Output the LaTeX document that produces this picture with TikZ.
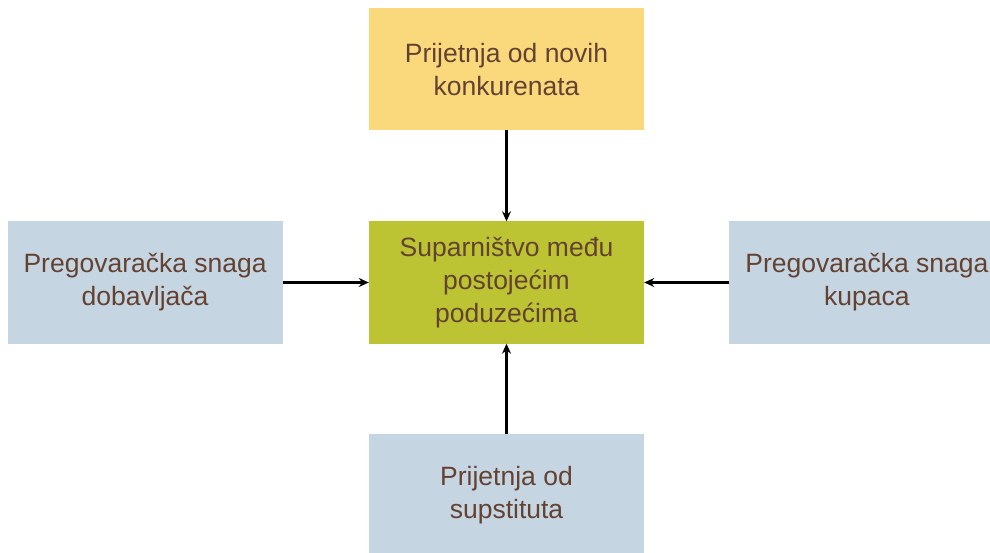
\documentclass[tikz,border=0pt]{standalone}
\usepackage{fontspec}
\setmainfont{Liberation Sans}
\usetikzlibrary{positioning, arrows.meta}

\definecolor{boxyellow}{RGB}{250,217,124}
\definecolor{boxolive}{RGB}{188,196,52}
\definecolor{boxblue}{RGB}{197,213,226}
\definecolor{txtbrown}{RGB}{100,66,50}

\begin{document}
\begin{tikzpicture}[x=1pt, y=1pt]
  % -----------------------------
  % SETTINGS
  % -----------------------------
  \def\W{275pt}   % box width
  \def\H{122pt}   % box height

  % -----------------------------
  % STYLES
  % -----------------------------
  \tikzset{
    force/.style={rectangle, minimum width=\W, minimum height=\H,
      inner sep=0pt, align=center, text=txtbrown,
      font=\fontsize{26.5}{33}\selectfont},
    push/.style={-{Stealth[length=10pt, width=9pt]}, line width=2.2pt, black},
  }

  % page frame
  \clip (0,0) rectangle (990,552);

  % -----------------------------
  % BOXES
  % -----------------------------
  \node[force, fill=boxolive] (rivalry) at (506.5,269.5)
    {Suparništvo među\\postojećim\\poduzećima};
  \node[force, fill=boxyellow, above=91pt of rivalry] (entrants)
    {Prijetnja od novih\\konkurenata};
  \node[force, fill=boxblue, left=86pt of rivalry] (suppliers)
    {Pregovaračka snaga\\dobavljača};
  \node[force, fill=boxblue, right=85pt of rivalry] (buyers)
    {Pregovaračka snaga\\kupaca};
  \node[force, fill=boxblue, below=90pt of rivalry] (substitutes)
    {Prijetnja od\\supstituta};

  % -----------------------------
  % ARROWS
  % -----------------------------
  \draw[push] (entrants) -- (rivalry);
  \draw[push] (suppliers) -- (rivalry);
  \draw[push] (buyers) -- (rivalry);
  \draw[push] (substitutes) -- (rivalry);
\end{tikzpicture}
\end{document}
